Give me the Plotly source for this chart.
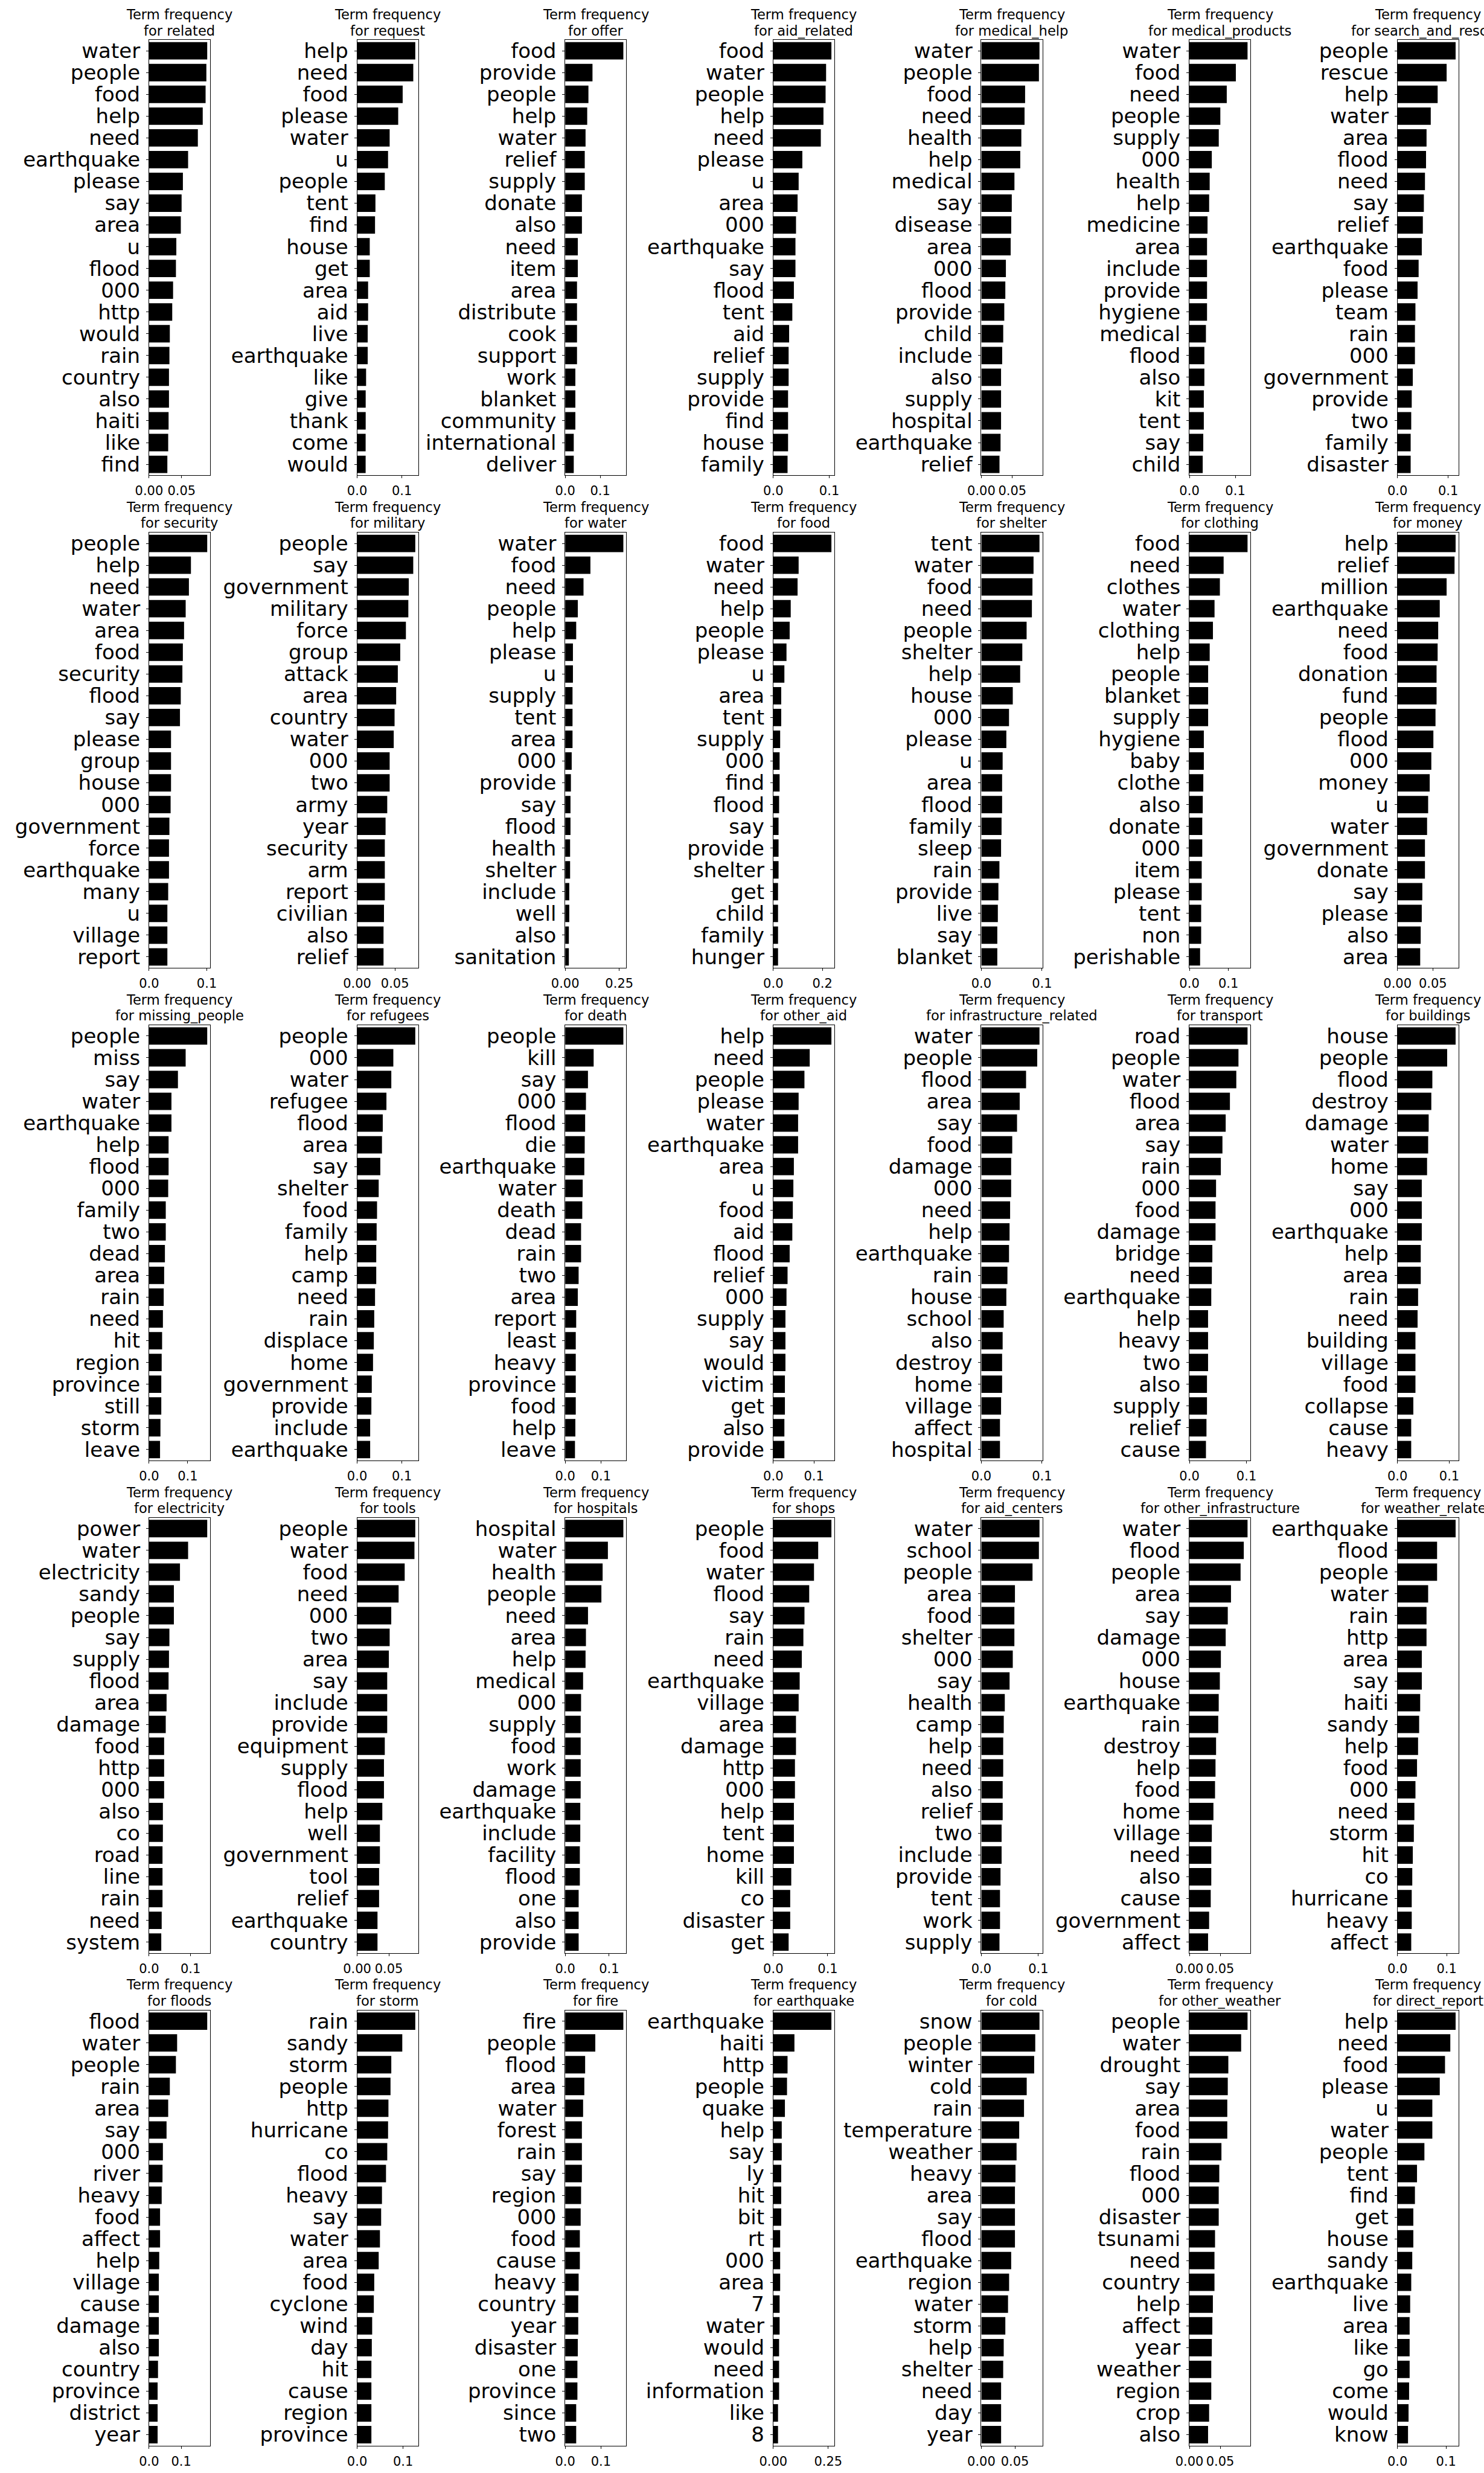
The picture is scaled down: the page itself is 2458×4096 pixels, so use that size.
import plotly.graph_objects as go

# ---------------- data ----------------
related_terms = ["water", "people", "food", "help", "need", "earthquake", "please", "say", "area", "u", "flood", "000", "http", "would", "rain", "country", "also", "haiti", "like", "find"]
related_tf = [0.0894, 0.0881, 0.0869, 0.0825, 0.0750, 0.0600, 0.0520, 0.0500, 0.0488, 0.0419, 0.0413, 0.0369, 0.0356, 0.0319, 0.0313, 0.0306, 0.0306, 0.0300, 0.0294, 0.0281]

request_terms = ["help", "need", "food", "please", "water", "u", "people", "tent", "find", "house", "get", "area", "aid", "live", "earthquake", "like", "give", "thank", "come", "would"]
request_tf = [0.1300, 0.1255, 0.1018, 0.0918, 0.0727, 0.0691, 0.0618, 0.0409, 0.0400, 0.0282, 0.0282, 0.0245, 0.0245, 0.0236, 0.0236, 0.0200, 0.0191, 0.0191, 0.0190, 0.0190]

offer_terms = ["food", "provide", "people", "help", "water", "relief", "supply", "donate", "also", "need", "item", "area", "distribute", "cook", "support", "work", "blanket", "community", "international", "deliver"]
offer_tf = [0.1660, 0.0779, 0.0663, 0.0628, 0.0581, 0.0558, 0.0558, 0.0477, 0.0477, 0.0360, 0.0360, 0.0337, 0.0337, 0.0337, 0.0337, 0.0290, 0.0290, 0.0290, 0.0244, 0.0244]

aid_related_terms = ["food", "water", "people", "help", "need", "please", "u", "area", "000", "earthquake", "say", "flood", "tent", "aid", "relief", "supply", "provide", "find", "house", "family"]
aid_related_tf = [0.1038, 0.0943, 0.0934, 0.0896, 0.0849, 0.0519, 0.0453, 0.0434, 0.0406, 0.0396, 0.0396, 0.0368, 0.0340, 0.0283, 0.0274, 0.0274, 0.0264, 0.0264, 0.0264, 0.0255]

medical_help_terms = ["water", "people", "food", "need", "health", "help", "medical", "say", "disease", "area", "000", "flood", "provide", "child", "include", "also", "supply", "hospital", "earthquake", "relief"]
medical_help_tf = [0.0938, 0.0929, 0.0706, 0.0697, 0.0645, 0.0628, 0.0534, 0.0491, 0.0482, 0.0473, 0.0396, 0.0387, 0.0370, 0.0353, 0.0336, 0.0318, 0.0318, 0.0318, 0.0310, 0.0293]

medical_products_terms = ["water", "food", "need", "people", "supply", "000", "health", "help", "medicine", "area", "include", "provide", "hygiene", "medical", "flood", "also", "kit", "tent", "say", "child"]
medical_products_tf = [0.1267, 0.1012, 0.0814, 0.0674, 0.0640, 0.0488, 0.0442, 0.0430, 0.0395, 0.0384, 0.0384, 0.0384, 0.0384, 0.0360, 0.0326, 0.0326, 0.0314, 0.0314, 0.0302, 0.0290]

search_and_rescue_terms = ["people", "rescue", "help", "water", "area", "flood", "need", "say", "relief", "earthquake", "food", "please", "team", "rain", "000", "government", "provide", "two", "family", "disaster"]
search_and_rescue_tf = [0.1146, 0.0969, 0.0792, 0.0656, 0.0573, 0.0563, 0.0542, 0.0520, 0.0500, 0.0479, 0.0417, 0.0396, 0.0354, 0.0344, 0.0344, 0.0302, 0.0281, 0.0271, 0.0260, 0.0260]

security_terms = ["people", "help", "need", "water", "area", "food", "security", "flood", "say", "please", "group", "house", "000", "government", "force", "earthquake", "many", "u", "village", "report"]
security_tf = [0.1007, 0.0725, 0.0690, 0.0634, 0.0606, 0.0585, 0.0577, 0.0549, 0.0535, 0.0380, 0.0380, 0.0380, 0.0373, 0.0352, 0.0345, 0.0345, 0.0331, 0.0317, 0.0317, 0.0317]

military_terms = ["people", "say", "government", "military", "force", "group", "attack", "area", "country", "water", "000", "two", "army", "year", "security", "arm", "report", "civilian", "also", "relief"]
military_tf = [0.0769, 0.0742, 0.0683, 0.0677, 0.0645, 0.0570, 0.0538, 0.0516, 0.0495, 0.0484, 0.0430, 0.0430, 0.0398, 0.0376, 0.0366, 0.0366, 0.0366, 0.0355, 0.0349, 0.0349]

water_terms = ["water", "food", "need", "people", "help", "please", "u", "supply", "tent", "area", "000", "provide", "say", "flood", "health", "shelter", "include", "well", "also", "sanitation"]
water_tf = [0.2688, 0.1165, 0.0846, 0.0583, 0.0508, 0.0357, 0.0357, 0.0338, 0.0338, 0.0338, 0.0300, 0.0263, 0.0244, 0.0244, 0.0226, 0.0226, 0.0188, 0.0188, 0.0169, 0.0169]

food_terms = ["food", "water", "need", "help", "people", "please", "u", "area", "tent", "supply", "000", "find", "flood", "say", "provide", "shelter", "get", "child", "family", "hunger"]
food_tf = [0.2366, 0.1032, 0.0989, 0.0710, 0.0667, 0.0538, 0.0452, 0.0323, 0.0323, 0.0280, 0.0258, 0.0258, 0.0237, 0.0215, 0.0215, 0.0215, 0.0194, 0.0194, 0.0194, 0.0194]

shelter_terms = ["tent", "water", "food", "need", "people", "shelter", "help", "house", "000", "please", "u", "area", "flood", "family", "sleep", "rain", "provide", "live", "say", "blanket"]
shelter_tf = [0.0958, 0.0860, 0.0842, 0.0833, 0.0746, 0.0675, 0.0640, 0.0518, 0.0456, 0.0412, 0.0351, 0.0342, 0.0342, 0.0333, 0.0325, 0.0298, 0.0281, 0.0272, 0.0263, 0.0263]

clothing_terms = ["food", "need", "clothes", "water", "clothing", "help", "people", "blanket", "supply", "hygiene", "baby", "clothe", "also", "donate", "000", "item", "please", "tent", "non", "perishable"]
clothing_tf = [0.1490, 0.0877, 0.0781, 0.0644, 0.0603, 0.0520, 0.0480, 0.0480, 0.0480, 0.0370, 0.0370, 0.0356, 0.0342, 0.0329, 0.0329, 0.0315, 0.0315, 0.0301, 0.0301, 0.0274]

money_terms = ["help", "relief", "million", "earthquake", "need", "food", "donation", "fund", "people", "flood", "000", "money", "u", "water", "government", "donate", "say", "please", "also", "area"]
money_tf = [0.0821, 0.0806, 0.0694, 0.0597, 0.0575, 0.0567, 0.0552, 0.0552, 0.0537, 0.0507, 0.0478, 0.0455, 0.0433, 0.0418, 0.0388, 0.0388, 0.0351, 0.0343, 0.0328, 0.0321]

missing_people_terms = ["people", "miss", "say", "water", "earthquake", "help", "flood", "000", "family", "two", "dead", "area", "rain", "need", "hit", "region", "province", "still", "storm", "leave"]
missing_people_tf = [0.1505, 0.0947, 0.0747, 0.0579, 0.0579, 0.0505, 0.0505, 0.0495, 0.0432, 0.0432, 0.0410, 0.0390, 0.0379, 0.0358, 0.0337, 0.0326, 0.0316, 0.0316, 0.0295, 0.0284]

refugees_terms = ["people", "000", "water", "refugee", "flood", "area", "say", "shelter", "food", "family", "help", "camp", "need", "rain", "displace", "home", "government", "provide", "include", "earthquake"]
refugees_tf = [0.1300, 0.0809, 0.0764, 0.0655, 0.0573, 0.0555, 0.0518, 0.0482, 0.0445, 0.0436, 0.0427, 0.0427, 0.0400, 0.0382, 0.0373, 0.0355, 0.0327, 0.0318, 0.0291, 0.0291]

death_terms = ["people", "kill", "say", "000", "flood", "die", "earthquake", "water", "death", "dead", "rain", "two", "area", "report", "least", "heavy", "province", "food", "help", "leave"]
death_tf = [0.1625, 0.0795, 0.0636, 0.0580, 0.0557, 0.0545, 0.0534, 0.0489, 0.0477, 0.0443, 0.0443, 0.0375, 0.0352, 0.0307, 0.0295, 0.0295, 0.0295, 0.0295, 0.0284, 0.0273]

other_aid_terms = ["help", "need", "people", "please", "water", "earthquake", "area", "u", "food", "aid", "flood", "relief", "000", "supply", "say", "would", "victim", "get", "also", "provide"]
other_aid_tf = [0.1429, 0.0896, 0.0766, 0.0623, 0.0610, 0.0610, 0.0506, 0.0494, 0.0480, 0.0468, 0.0403, 0.0351, 0.0325, 0.0299, 0.0299, 0.0299, 0.0286, 0.0286, 0.0273, 0.0273]

infrastructure_related_terms = ["water", "people", "flood", "area", "say", "food", "damage", "000", "need", "help", "earthquake", "rain", "house", "school", "also", "destroy", "home", "village", "affect", "hospital"]
infrastructure_related_tf = [0.0958, 0.0921, 0.0737, 0.0632, 0.0588, 0.0509, 0.0491, 0.0491, 0.0474, 0.0465, 0.0456, 0.0430, 0.0412, 0.0368, 0.0351, 0.0342, 0.0342, 0.0325, 0.0307, 0.0307]

transport_terms = ["road", "people", "water", "flood", "area", "say", "rain", "000", "food", "damage", "bridge", "need", "earthquake", "help", "heavy", "two", "also", "supply", "relief", "cause"]
transport_tf = [0.1019, 0.0860, 0.0822, 0.0710, 0.0636, 0.0579, 0.0551, 0.0467, 0.0458, 0.0458, 0.0402, 0.0393, 0.0383, 0.0327, 0.0327, 0.0327, 0.0308, 0.0308, 0.0299, 0.0290]

buildings_terms = ["house", "people", "flood", "destroy", "damage", "water", "home", "say", "000", "earthquake", "help", "area", "rain", "need", "building", "village", "food", "collapse", "cause", "heavy"]
buildings_tf = [0.1122, 0.0959, 0.0673, 0.0653, 0.0602, 0.0592, 0.0571, 0.0469, 0.0469, 0.0469, 0.0449, 0.0449, 0.0398, 0.0388, 0.0347, 0.0347, 0.0347, 0.0306, 0.0265, 0.0265]

electricity_terms = ["power", "water", "electricity", "sandy", "people", "say", "supply", "flood", "area", "damage", "food", "http", "000", "also", "co", "road", "line", "rain", "need", "system"]
electricity_tf = [0.1402, 0.0941, 0.0745, 0.0598, 0.0598, 0.0490, 0.0480, 0.0470, 0.0422, 0.0402, 0.0363, 0.0363, 0.0363, 0.0333, 0.0333, 0.0324, 0.0324, 0.0324, 0.0304, 0.0294]

tools_terms = ["people", "water", "food", "need", "000", "two", "area", "say", "include", "provide", "equipment", "supply", "flood", "help", "well", "government", "tool", "relief", "earthquake", "country"]
tools_tf = [0.0917, 0.0904, 0.0750, 0.0654, 0.0538, 0.0513, 0.0500, 0.0474, 0.0474, 0.0474, 0.0436, 0.0423, 0.0423, 0.0397, 0.0359, 0.0359, 0.0346, 0.0346, 0.0321, 0.0321]

hospitals_terms = ["hospital", "water", "health", "people", "need", "area", "help", "medical", "000", "supply", "food", "work", "damage", "earthquake", "include", "facility", "flood", "one", "also", "provide"]
hospitals_tf = [0.1324, 0.0972, 0.0852, 0.0824, 0.0519, 0.0472, 0.0463, 0.0407, 0.0361, 0.0352, 0.0352, 0.0352, 0.0352, 0.0343, 0.0343, 0.0333, 0.0333, 0.0306, 0.0306, 0.0306]

shops_terms = ["people", "food", "water", "flood", "say", "rain", "need", "earthquake", "village", "area", "damage", "http", "000", "help", "tent", "home", "kill", "co", "disaster", "get"]
shops_tf = [0.1068, 0.0825, 0.0748, 0.0660, 0.0573, 0.0553, 0.0524, 0.0485, 0.0466, 0.0417, 0.0417, 0.0398, 0.0398, 0.0379, 0.0379, 0.0379, 0.0330, 0.0311, 0.0311, 0.0282]

aid_centers_terms = ["water", "school", "people", "area", "food", "shelter", "000", "say", "health", "camp", "help", "need", "also", "relief", "two", "include", "provide", "tent", "work", "supply"]
aid_centers_tf = [0.1019, 0.1009, 0.0897, 0.0589, 0.0579, 0.0579, 0.0551, 0.0495, 0.0411, 0.0393, 0.0383, 0.0383, 0.0374, 0.0374, 0.0355, 0.0355, 0.0336, 0.0327, 0.0327, 0.0318]

other_infrastructure_terms = ["water", "flood", "people", "area", "say", "damage", "000", "house", "earthquake", "rain", "destroy", "help", "food", "home", "village", "need", "also", "cause", "government", "affect"]
other_infrastructure_tf = [0.0944, 0.0883, 0.0831, 0.0675, 0.0623, 0.0589, 0.0511, 0.0494, 0.0476, 0.0468, 0.0433, 0.0424, 0.0416, 0.0390, 0.0364, 0.0355, 0.0355, 0.0346, 0.0320, 0.0303]

weather_related_terms = ["earthquake", "flood", "people", "water", "rain", "http", "area", "say", "haiti", "sandy", "help", "food", "000", "need", "storm", "hit", "co", "hurricane", "heavy", "affect"]
weather_related_tf = [0.1183, 0.0806, 0.0806, 0.0624, 0.0591, 0.0591, 0.0495, 0.0495, 0.0462, 0.0441, 0.0419, 0.0398, 0.0366, 0.0344, 0.0333, 0.0312, 0.0301, 0.0290, 0.0290, 0.0280]

floods_terms = ["flood", "water", "people", "rain", "area", "say", "000", "river", "heavy", "food", "affect", "help", "village", "cause", "damage", "also", "country", "province", "district", "year"]
floods_tf = [0.1810, 0.0873, 0.0835, 0.0646, 0.0595, 0.0544, 0.0430, 0.0418, 0.0392, 0.0342, 0.0342, 0.0316, 0.0304, 0.0304, 0.0304, 0.0304, 0.0278, 0.0266, 0.0266, 0.0266]

storm_terms = ["rain", "sandy", "storm", "people", "http", "hurricane", "co", "flood", "heavy", "say", "water", "area", "food", "cyclone", "wind", "day", "hit", "cause", "region", "province"]
storm_tf = [0.1265, 0.0982, 0.0743, 0.0726, 0.0681, 0.0673, 0.0655, 0.0628, 0.0540, 0.0522, 0.0496, 0.0469, 0.0372, 0.0363, 0.0327, 0.0319, 0.0310, 0.0310, 0.0310, 0.0310]

fire_terms = ["fire", "people", "flood", "area", "water", "forest", "rain", "say", "region", "000", "food", "cause", "heavy", "country", "year", "disaster", "one", "province", "since", "two"]
fire_tf = [0.1625, 0.0841, 0.0557, 0.0534, 0.0500, 0.0466, 0.0466, 0.0466, 0.0443, 0.0432, 0.0409, 0.0409, 0.0375, 0.0364, 0.0364, 0.0352, 0.0341, 0.0341, 0.0307, 0.0307]

earthquake_terms = ["earthquake", "haiti", "http", "people", "quake", "help", "say", "ly", "hit", "bit", "rt", "000", "area", "7", "water", "would", "need", "information", "like", "8"]
earthquake_tf = [0.2644, 0.0962, 0.0649, 0.0625, 0.0529, 0.0385, 0.0385, 0.0361, 0.0361, 0.0361, 0.0313, 0.0313, 0.0313, 0.0288, 0.0288, 0.0264, 0.0264, 0.0264, 0.0216, 0.0216]

cold_terms = ["snow", "people", "winter", "cold", "rain", "temperature", "weather", "heavy", "area", "say", "flood", "earthquake", "region", "water", "storm", "help", "shelter", "need", "day", "year"]
cold_tf = [0.0865, 0.0802, 0.0786, 0.0675, 0.0635, 0.0563, 0.0524, 0.0508, 0.0500, 0.0500, 0.0500, 0.0444, 0.0413, 0.0397, 0.0357, 0.0333, 0.0325, 0.0294, 0.0294, 0.0294]

other_weather_terms = ["people", "water", "drought", "say", "area", "food", "rain", "flood", "000", "disaster", "tsunami", "need", "country", "help", "affect", "year", "weather", "region", "crop", "also"]
other_weather_tf = [0.0944, 0.0840, 0.0632, 0.0623, 0.0615, 0.0615, 0.0520, 0.0485, 0.0476, 0.0476, 0.0416, 0.0407, 0.0407, 0.0381, 0.0372, 0.0364, 0.0355, 0.0355, 0.0320, 0.0303]

direct_report_terms = ["help", "need", "food", "please", "u", "water", "people", "tent", "find", "get", "house", "sandy", "earthquake", "live", "area", "like", "go", "come", "would", "know"]
direct_report_tf = [0.1196, 0.1087, 0.0978, 0.0870, 0.0717, 0.0717, 0.0554, 0.0402, 0.0359, 0.0326, 0.0326, 0.0304, 0.0283, 0.0261, 0.0250, 0.0250, 0.0250, 0.0239, 0.0228, 0.0217]

# tick labels shown on each panel's x axis
ticks_005 = ["0.00", "0.05"]
ticks_01 = ["0.0", "0.1"]
ticks_02 = ["0.0", "0.2"]
ticks_025 = ["0.00", "0.25"]

categories = [
    "related", "request", "offer", "aid_related", "medical_help", "medical_products", "search_and_rescue",
    "security", "military", "water", "food", "shelter", "clothing", "money",
    "missing_people", "refugees", "death", "other_aid", "infrastructure_related", "transport", "buildings",
    "electricity", "tools", "hospitals", "shops", "aid_centers", "other_infrastructure", "weather_related",
    "floods", "storm", "fire", "earthquake", "cold", "other_weather", "direct_report",
]
panel_terms = [
    related_terms, request_terms, offer_terms, aid_related_terms, medical_help_terms, medical_products_terms, search_and_rescue_terms,
    security_terms, military_terms, water_terms, food_terms, shelter_terms, clothing_terms, money_terms,
    missing_people_terms, refugees_terms, death_terms, other_aid_terms, infrastructure_related_terms, transport_terms, buildings_terms,
    electricity_terms, tools_terms, hospitals_terms, shops_terms, aid_centers_terms, other_infrastructure_terms, weather_related_terms,
    floods_terms, storm_terms, fire_terms, earthquake_terms, cold_terms, other_weather_terms, direct_report_terms,
]
panel_tf = [
    related_tf, request_tf, offer_tf, aid_related_tf, medical_help_tf, medical_products_tf, search_and_rescue_tf,
    security_tf, military_tf, water_tf, food_tf, shelter_tf, clothing_tf, money_tf,
    missing_people_tf, refugees_tf, death_tf, other_aid_tf, infrastructure_related_tf, transport_tf, buildings_tf,
    electricity_tf, tools_tf, hospitals_tf, shops_tf, aid_centers_tf, other_infrastructure_tf, weather_related_tf,
    floods_tf, storm_tf, fire_tf, earthquake_tf, cold_tf, other_weather_tf, direct_report_tf,
]
panel_ticks = [
    ticks_005, ticks_01, ticks_01, ticks_01, ticks_005, ticks_01, ticks_01,
    ticks_01, ticks_005, ticks_025, ticks_02, ticks_01, ticks_01, ticks_005,
    ticks_01, ticks_01, ticks_01, ticks_01, ticks_01, ticks_01, ticks_01,
    ticks_01, ticks_005, ticks_01, ticks_01, ticks_01, ticks_005, ticks_01,
    ticks_01, ticks_01, ticks_01, ticks_025, ticks_005, ticks_005, ticks_01,
]

# ---------------- layout geometry (reference pixels, 3000 x 5000) ----------------
W, H = 2458, 4096
REF_W, REF_H = 3000.0, 5000.0
NCOLS = 7
COL_LEFT0, COL_PITCH, AX_W = 277.7, 427.4, 125.4
ROW_TOP0, ROW_PITCH, AX_H = 78.4, 996.9, 880.9
TITLE_L1, TITLE_L2 = 51.5, 19.0   # distance above axes top of each title line's middle

FONT = "DejaVu Sans"
YTICK_SIZE = 34
XTICK_SIZE = 21
TITLE_SIZE = 22.6

fig = go.Figure()
axes = {}
annotations = []

for i, name in enumerate(categories):
    terms = panel_terms[i]
    tf = panel_tf[i]
    ticks = panel_ticks[i]
    r, c = divmod(i, NCOLS)
    k = "" if i == 0 else str(i + 1)
    left = COL_LEFT0 + c * COL_PITCH
    top = ROW_TOP0 + r * ROW_PITCH
    x0 = left / REF_W
    x1 = (left + AX_W) / REF_W
    y1 = 1 - top / REF_H
    y0 = 1 - (top + AX_H) / REF_H

    fig.add_trace(go.Bar(
        x=tf, y=terms, orientation="h",
        marker=dict(color="black", line=dict(width=0)),
        xaxis="x" + k, yaxis="y" + k, showlegend=False,
    ))

    axes["xaxis" + k] = dict(
        domain=[x0, x1], anchor="y" + k,
        range=[0, max(tf) * 1.05],
        tickmode="array", tickvals=[float(t) for t in ticks], ticktext=ticks,
        tickangle=0, ticks="outside", ticklen=4, tickwidth=1, tickcolor="black",
        ticklabelstandoff=3,
        showline=True, linecolor="black", linewidth=1, mirror=True,
        showgrid=False, zeroline=False,
        tickfont=dict(family=FONT, size=XTICK_SIZE, color="black"),
        fixedrange=True,
    )
    axes["yaxis" + k] = dict(
        domain=[y0, y1], anchor="x" + k,
        type="category", categoryorder="array", categoryarray=terms,
        range=[len(terms) - 0.5, -0.5],
        tickmode="array", tickvals=terms, ticktext=terms,
        ticks="outside", ticklen=4, tickwidth=1, tickcolor="black",
        ticklabelstandoff=3,
        showline=True, linecolor="black", linewidth=1, mirror=True,
        showgrid=False, zeroline=False,
        tickfont=dict(family=FONT, size=YTICK_SIZE, color="black"),
        fixedrange=True,
    )

    cx = (x0 + x1) / 2
    for txt, off in (("Term frequency", TITLE_L1), ("for " + name, TITLE_L2)):
        annotations.append(dict(
            text=txt, xref="paper", yref="paper",
            x=cx, y=1 - (top - off) / REF_H,
            xanchor="center", yanchor="middle", showarrow=False,
            font=dict(family=FONT, size=TITLE_SIZE, color="black"),
        ))

fig.update_layout(
    width=W, height=H, autosize=False,
    margin=dict(l=0, r=0, t=0, b=0, pad=0),
    paper_bgcolor="white", plot_bgcolor="white",
    bargap=0.2, showlegend=False,
    font=dict(family=FONT, color="black"),
    annotations=annotations,
    **axes,
)

fig.write_html("out.html", config={"displayModeBar": False})
